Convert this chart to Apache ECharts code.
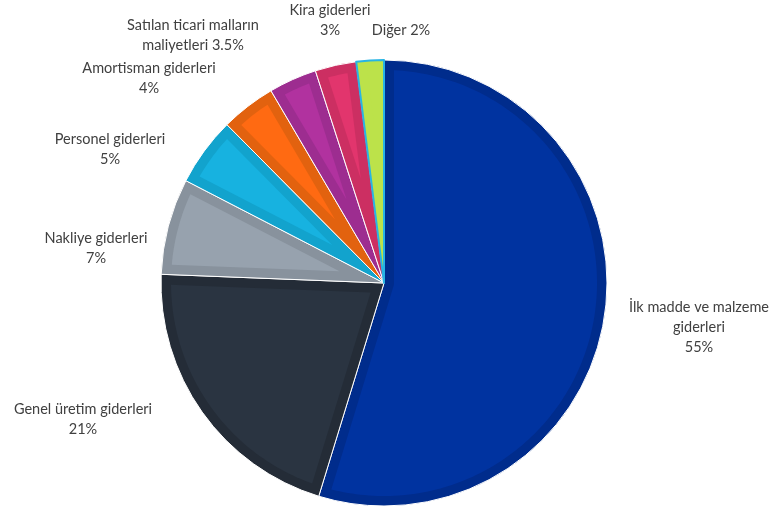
<!DOCTYPE html>
<html>
<head>
<meta charset="utf-8">
<script src="https://cdn.jsdelivr.net/npm/echarts@6/dist/echarts.min.js"></script>
<style>
  html, body { margin: 0; padding: 0; background: #ffffff; }
  #chart { width: 774px; height: 507px; }
</style>
</head>
<body>
<div id="chart"></div>
<script>
// Cost breakdown (percent of total expenses)
const categories = [
  'İlk madde ve malzeme\ngiderleri',
  'Genel üretim giderleri',
  'Nakliye giderleri',
  'Personel giderleri',
  'Amortisman giderleri',
  'Satılan ticari malların\nmaliyetleri',
  'Kira giderleri',
  'Diğer'
];
const values = [55, 21, 7, 5, 4, 3.5, 3, 2];
// labels where the percentage follows the name on the same line
const inlineValue = [false, false, false, false, false, true, false, true];

// slice colours: inner fill and the darker rim around it
const fillColors = ['#0033a0', '#2a3441', '#97a2ae', '#17b2e0', '#ff6a12', '#b1329f', '#e2356d', '#bce24a'];
const rimColors  = ['#002c8c', '#242c37', '#88929d', '#12a3cd', '#e2620f', '#9d2d90', '#cc2f62', '#bce24a'];
const edgeColors = ['#ffffff', '#ffffff', '#ffffff', '#ffffff', '#ffffff', '#ffffff', '#ffffff', '#27b4e4'];

// label anchor points (label centre), one per slice
const labelPos = [[699, 327], [83, 419], [96, 248], [110, 149], [149, 78], [193, 35], [330, 20], [401, 30]];

const CX = 384, CY = 283, R = 223, RIM = 10;

const chart = echarts.init(document.getElementById('chart'), null, { renderer: 'canvas' });

const total = values.reduce((a, b) => a + b, 0);
const starts = [];
values.reduce((acc, v, i) => { starts[i] = acc; return acc + v; }, 0);

function pt(angle, r) {
  // angle measured clockwise from 12 o'clock
  return [CX + r * Math.sin(angle), CY - r * Math.cos(angle)];
}

// inner lighter region of a slice, inset by RIM from every edge
function insetPolygon(i) {
  const a0 = starts[i] / total * Math.PI * 2;
  const a1 = (starts[i] + values[i]) / total * Math.PI * 2;
  const theta = a1 - a0;
  const Ri = R - RIM;
  const off = Math.asin(RIM / Ri);
  const o0 = a0 + off, o1 = a1 - off;
  if (o1 <= o0) return null;
  const pts = [];
  if (theta < Math.PI) {
    const apexR = RIM / Math.sin(theta / 2);
    if (apexR >= Ri) return null;
    pts.push(pt((a0 + a1) / 2, apexR));
  } else {
    const s = a0 + Math.PI / 2, e = a1 - Math.PI / 2;
    const n = 24;
    for (let k = 0; k <= n; k++) pts.push(pt(s + (e - s) * k / n, RIM));
  }
  const steps = Math.max(8, Math.ceil((o1 - o0) / 0.02));
  for (let k = 0; k <= steps; k++) pts.push(pt(o1 - (o1 - o0) * k / steps, Ri));
  return pts;
}

const pieData = categories.map((name, i) => ({
  name: name,
  value: values[i],
  itemStyle: { color: rimColors[i], borderColor: edgeColors[i], borderWidth: i === 7 ? 2 : 1 }
}));

chart.setOption({
  animation: false,
  backgroundColor: '#ffffff',
  series: [
    {
      type: 'pie',
      center: [CX, CY],
      radius: [0, R],
      startAngle: 90,
      clockwise: true,
      data: pieData,
      emphasis: { disabled: true },
      label: {
        show: true,
        position: 'outside',
        overflow: 'none',
        color: '#404040',
        fontFamily: 'Lato',
        fontSize: 14.5,
        lineHeight: 20,
        align: 'center',
        formatter: function (p) {
          return p.name + (inlineValue[p.dataIndex] ? ' ' : '\n') + p.value + '%';
        }
      },
      labelLine: { show: false },
      labelLayout: function (p) {
        const pos = labelPos[p.dataIndex];
        return { x: pos[0], y: pos[1], align: 'center', verticalAlign: 'middle' };
      },
      z: 2
    },
    {
      type: 'custom',
      coordinateSystem: 'none',
      silent: true,
      z: 3,
      data: values,
      renderItem: function (params) {
        const pts = insetPolygon(params.dataIndex);
        if (!pts) return null;
        return {
          type: 'polygon',
          shape: { points: pts },
          style: { fill: fillColors[params.dataIndex], stroke: null }
        };
      }
    }
  ]
});
</script>
</body>
</html>
